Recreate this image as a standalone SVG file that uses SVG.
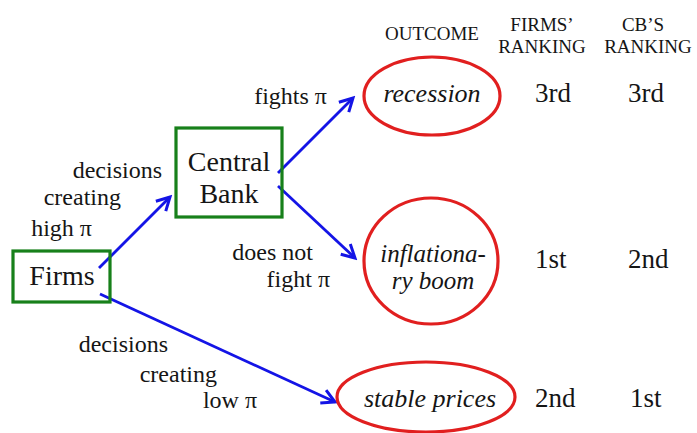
<svg xmlns="http://www.w3.org/2000/svg" width="697" height="433" viewBox="0 0 697 433">
<defs>
<marker id="ah" markerUnits="userSpaceOnUse" viewBox="0 0 18 18" refX="15" refY="9" markerWidth="18" markerHeight="18" orient="auto">
<path d="M2,2 L15,9 L2,16" fill="none" stroke="#1414e6" stroke-width="3" stroke-linejoin="miter"/>
</marker>
</defs>
<rect width="697" height="433" fill="#ffffff"/>
<g id="connectors" stroke="#1414e6" stroke-width="2.8" fill="none" marker-end="url(#ah)">
<line x1="99" y1="268" x2="170" y2="197"/>
<line x1="278" y1="173" x2="353" y2="98"/>
<line x1="278" y1="186" x2="355" y2="258"/>
<line x1="100" y1="294" x2="335" y2="402"/>
</g>
<g id="labels" fill="#151515" font-size="24" text-anchor="end">
<text font-family="Liberation Serif" x="327" y="104">fights π</text>
<text font-family="Liberation Serif" x="162" y="178">decisions</text>
<text font-family="Liberation Serif" x="121" y="205">creating</text>
<text font-family="Liberation Serif" x="92" y="236">high π</text>
<text font-family="Liberation Serif" x="313" y="260">does not</text>
<text font-family="Liberation Serif" x="330" y="287">fight π</text>
<text font-family="Liberation Serif" x="168" y="352">decisions</text>
<text font-family="Liberation Serif" x="217" y="382">creating</text>
<text font-family="Liberation Serif" x="257" y="408">low π</text>
</g>
<g id="firms">
<rect fill="none" stroke="#17801a" stroke-width="3.2" x="13" y="251" width="97" height="51"/>
<text font-family="Liberation Serif" font-size="28" text-anchor="middle" fill="#151515" x="62" y="285">Firms</text>
</g>
<g id="central-bank">
<rect fill="none" stroke="#17801a" stroke-width="3.2" x="176" y="128" width="106" height="89"/>
<text font-family="Liberation Serif" font-size="28" text-anchor="middle" fill="#151515" x="229" y="171">Central</text>
<text font-family="Liberation Serif" font-size="28" text-anchor="middle" fill="#151515" x="229" y="203">Bank</text>
</g>
<g id="recession">
<ellipse fill="none" stroke="#e11f1f" stroke-width="3.2" cx="432" cy="96" rx="68" ry="39"/>
<text font-family="Liberation Serif" font-size="26" font-style="italic" text-anchor="middle" fill="#151515" x="432" y="102">recession</text>
</g>
<g id="inflationary-boom">
<ellipse fill="none" stroke="#e11f1f" stroke-width="3.2" cx="431" cy="261" rx="67" ry="63"/>
<text font-family="Liberation Serif" font-size="25" font-style="italic" text-anchor="middle" fill="#151515" x="433" y="262">inflationa-</text>
<text font-family="Liberation Serif" font-size="25" font-style="italic" text-anchor="middle" fill="#151515" x="433" y="289">ry boom</text>
</g>
<g id="stable-prices">
<ellipse fill="none" stroke="#e11f1f" stroke-width="3.2" cx="426" cy="397" rx="89" ry="35"/>
<text font-family="Liberation Serif" font-size="26" font-style="italic" text-anchor="middle" fill="#151515" x="430" y="407">stable prices</text>
</g>
<g id="headers" fill="#151515" font-size="19" text-anchor="middle">
<text font-family="Liberation Serif" x="432" y="40">OUTCOME</text>
<text font-family="Liberation Serif" x="542" y="31">FIRMS’</text>
<text font-family="Liberation Serif" x="542" y="53">RANKING</text>
<text font-family="Liberation Serif" x="643" y="31">CB’S</text>
<text font-family="Liberation Serif" x="648" y="53">RANKING</text>
</g>
<g id="rankings" fill="#151515" font-size="27">
<text font-family="Liberation Serif" x="535" y="102">3rd</text>
<text font-family="Liberation Serif" x="628" y="102">3rd</text>
<text font-family="Liberation Serif" x="535" y="268">1st</text>
<text font-family="Liberation Serif" x="628" y="268">2nd</text>
<text font-family="Liberation Serif" x="535" y="407">2nd</text>
<text font-family="Liberation Serif" x="630" y="407">1st</text>
</g>
</svg>
